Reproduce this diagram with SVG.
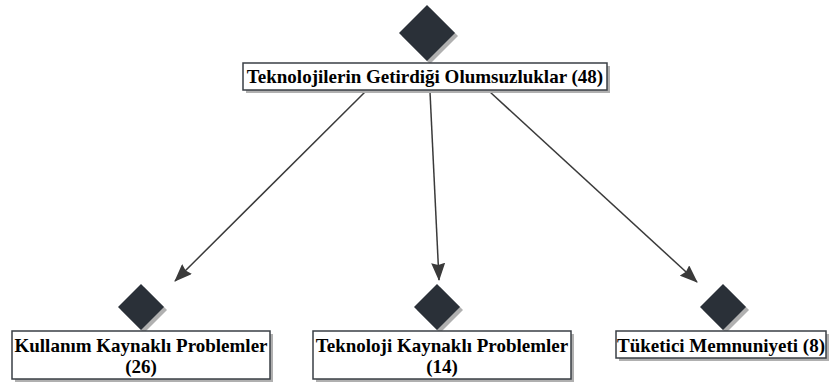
<svg xmlns="http://www.w3.org/2000/svg" width="830" height="383" viewBox="0 0 830 383">
<defs>
<style>
.lbl{font-family:"Liberation Serif","Times New Roman",serif;font-weight:bold;font-size:19px;fill:#000;text-anchor:middle}
.box{fill:#fff;stroke:#3a3f45;stroke-width:1.5}
.sh{fill:#b0b0b0}
.dia{fill:#2a3038}
.edge{stroke:#3a3a3a;stroke-width:1.5;fill:none;marker-end:url(#ah)}
</style>
<marker id="ah" markerWidth="18" markerHeight="14" refX="17" refY="7" orient="auto" markerUnits="userSpaceOnUse" viewBox="0 0 18 14">
<path d="M0,0 L18,7 L0,14 L2,7 Z" fill="#3a3a3a"/>
</marker>
</defs>
<rect width="830" height="383" fill="#fff"/>
<g id="connectors">
<line class="edge" x1="365" y1="92" x2="175" y2="281"/>
<line class="edge" x1="430" y1="92" x2="439" y2="280"/>
<line class="edge" x1="490" y1="92" x2="697" y2="282"/>
</g>
<g id="n0">
<path class="sh" d="M430,8 L458,36 L430,64 L402,36 Z"/>
<path class="dia" d="M427,5 L455,33 L427,61 L399,33 Z"/>
<rect class="sh" x="246" y="66" width="364" height="27"/>
<rect class="box" x="243" y="63" width="364" height="27"/>
<text class="lbl" x="425" y="83">Teknolojilerin Getirdiği Olumsuzluklar (48)</text>
</g>
<g id="n1">
<path class="sh" d="M144,287 L167,310 L144,333 L121,310 Z"/>
<path class="dia" d="M141,284 L164,307 L141,330 L118,307 Z"/>
<rect class="sh" x="15" y="334" width="258" height="48"/>
<rect class="box" x="12" y="331" width="258" height="48"/>
<text class="lbl" x="141" y="352">Kullanım Kaynaklı Problemler</text>
<text class="lbl" x="141" y="373">(26)</text>
</g>
<g id="n2">
<path class="sh" d="M440,287 L463,310 L440,333 L417,310 Z"/>
<path class="dia" d="M437,284 L460,307 L437,330 L414,307 Z"/>
<rect class="sh" x="316" y="334" width="258" height="48"/>
<rect class="box" x="313" y="331" width="258" height="48"/>
<text class="lbl" x="442" y="352">Teknoloji Kaynaklı Problemler</text>
<text class="lbl" x="442" y="373">(14)</text>
</g>
<g id="n3">
<path class="sh" d="M726,287 L749,310 L726,333 L703,310 Z"/>
<path class="dia" d="M723,284 L746,307 L723,330 L700,307 Z"/>
<rect class="sh" x="619" y="334" width="210" height="27"/>
<rect class="box" x="616" y="331" width="210" height="27"/>
<text class="lbl" x="721" y="352">Tüketici Memnuniyeti (8)</text>
</g>
</svg>
